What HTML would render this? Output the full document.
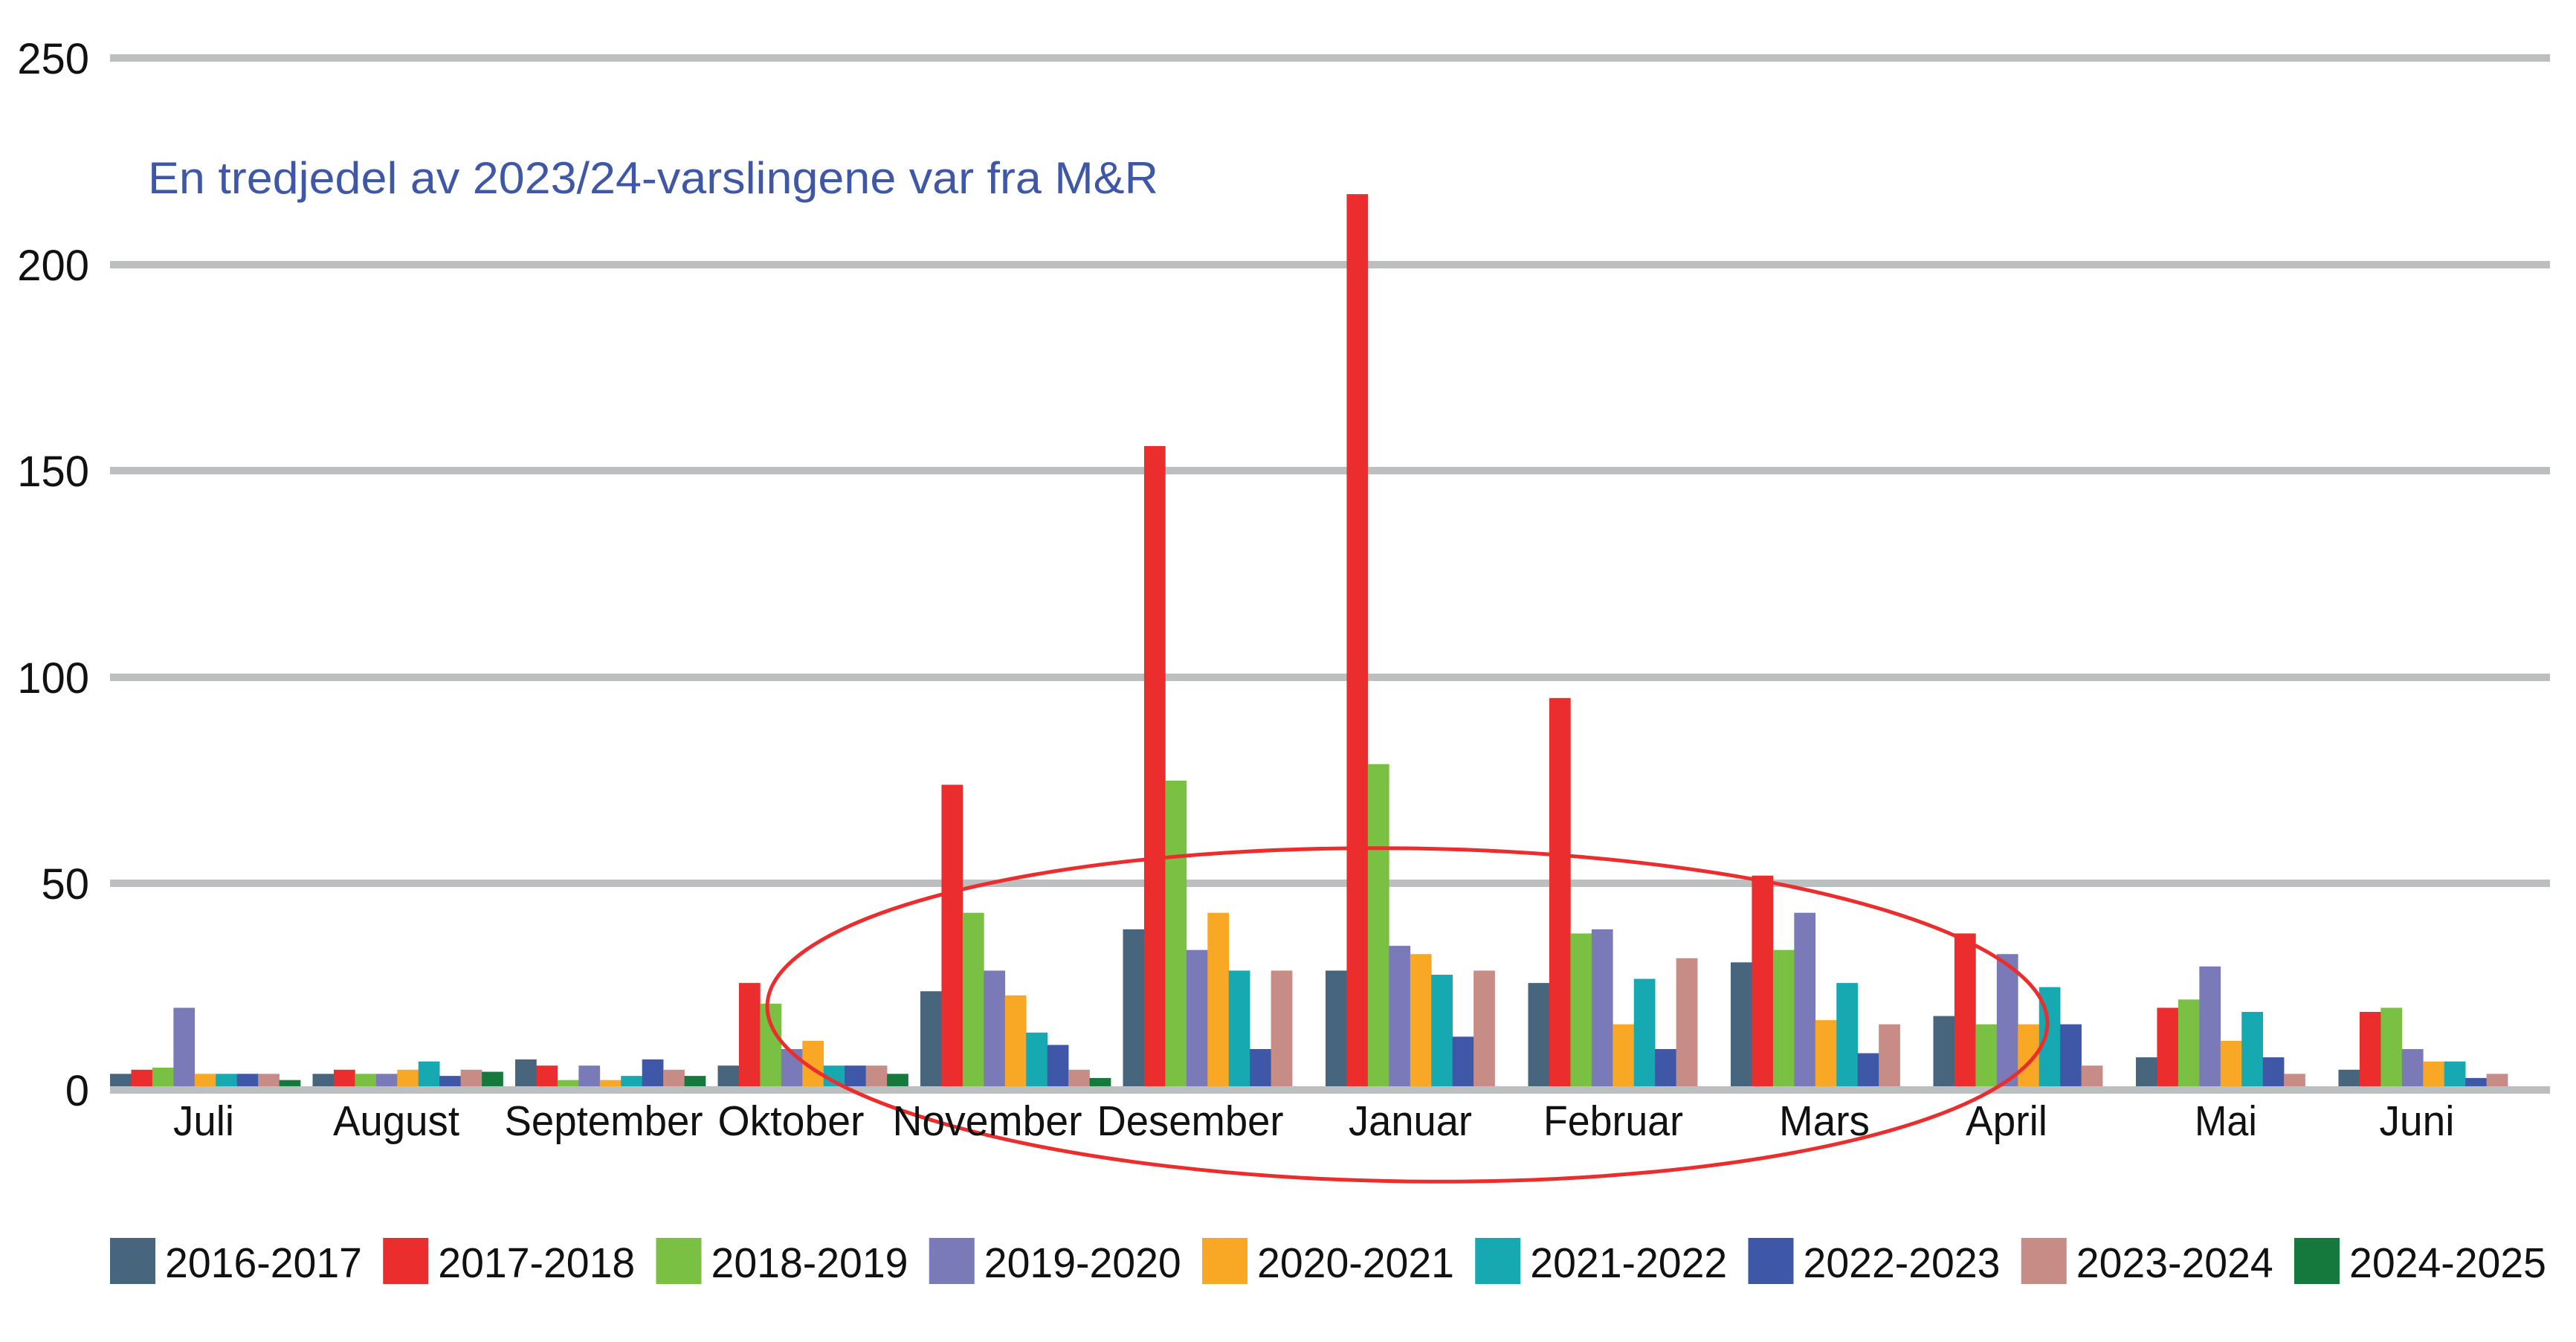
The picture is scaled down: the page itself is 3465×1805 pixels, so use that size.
<!DOCTYPE html>
<html><head><meta charset="utf-8"><style>html,body{margin:0;padding:0;background:#fff;}svg{display:block}</style></head>
<body>
<svg width="3465" height="1805" viewBox="0 0 3465 1805" xmlns="http://www.w3.org/2000/svg" font-family="'Liberation Sans', sans-serif">
<g fill="#bcbfbf">
<rect x="148" y="73" width="3282" height="10"/>
<rect x="148" y="351" width="3282" height="10"/>
<rect x="148" y="628" width="3282" height="10"/>
<rect x="148" y="906" width="3282" height="10"/>
<rect x="148" y="1183" width="3282" height="10"/>
<rect x="148" y="1461" width="3282" height="10"/>
</g>
<g font-size="58" fill="#111" text-anchor="end">
<text x="120" y="99">250</text>
<text x="120" y="377">200</text>
<text x="120" y="654">150</text>
<text x="120" y="932">100</text>
<text x="120" y="1209">50</text>
<text x="120" y="1487">0</text>
</g>
<text x="199" y="260" font-size="60" fill="#3e57a6" textLength="1359" lengthAdjust="spacingAndGlyphs">En tredjedel av 2023/24-varslingene var fra M&amp;R</text>
<g id="bars"></g>
<ellipse cx="1893" cy="1365" rx="861" ry="224" fill="none" stroke="#eb2d2d" stroke-width="5" transform="rotate(0.8 1893 1365)"/>
<g font-size="57" fill="#111" text-anchor="middle" id="months"></g>
<g id="legend" font-size="57" fill="#111"></g>
<script>
var C=["#47657d","#eb2d2d","#7ac143","#7a7ab8","#f9a825","#17a9b1","#3e57a6","#c88c87","#15783c"];
var D=[[3,4,4.5,19,3,3,3,3,1.5],[3,4,3,3,4,6,2.5,4,3.5],[6.5,5,1.5,5,1.5,2.5,6.5,4,2.5],[5,25,20,9,11,5,5,5,3],[23,73,42,28,22,13,10,4,2],[38,155,74,33,42,28,9,28,0],[28,216,78,34,32,27,12,28,0],[25,94,37,38,15,26,9,31,0],[30,51,33,42,16,25,8,15,0],[17,37,15,32,15,24,15,5,0],[7,19,21,29,11,18,7,3,0],[4,18,19,9,6,6,2,3,0]];
var M=["Juli","August","September","Oktober","November","Desember","Januar","Februar","Mars","April","Mai","Juni"];
var W=[82,170,267,197,255,251,166,188,122,110,84,101];
var X=[274,533,812,1064,1328,1601,1897,2170,2454,2699,2994,3251];
var ns="http://www.w3.org/2000/svg",b=document.getElementById("bars"),m=document.getElementById("months"),l=document.getElementById("legend");
var base=1461,u=5.555,bw=28.45,pitch=272.5;
for(var g=0;g<12;g++){var x0=148+g*pitch;for(var i=0;i<9;i++){var v=D[g][i];if(!v)continue;var r=document.createElementNS(ns,"rect");r.setAttribute("x",x0+i*bw);r.setAttribute("width",bw+0.3);r.setAttribute("y",base-v*u);r.setAttribute("height",v*u);r.setAttribute("fill",C[i]);b.appendChild(r);}
var t=document.createElementNS(ns,"text");t.setAttribute("x",X[g]);t.setAttribute("y",1527);t.setAttribute("textLength",W[g]);t.setAttribute("lengthAdjust","spacingAndGlyphs");t.textContent=M[g];m.appendChild(t);}
var L=["2016-2017","2017-2018","2018-2019","2019-2020","2020-2021","2021-2022","2022-2023","2023-2024","2024-2025"];
for(var i=0;i<9;i++){var x=148+i*367.25;var r=document.createElementNS(ns,"rect");r.setAttribute("x",x);r.setAttribute("y",1665);r.setAttribute("width",61);r.setAttribute("height",62);r.setAttribute("fill",C[i]);l.appendChild(r);
var t=document.createElementNS(ns,"text");t.setAttribute("x",x+74);t.setAttribute("y",1718);t.setAttribute("textLength",265);t.setAttribute("lengthAdjust","spacingAndGlyphs");t.textContent=L[i];l.appendChild(t);}
</script>
</svg>
</body></html>
